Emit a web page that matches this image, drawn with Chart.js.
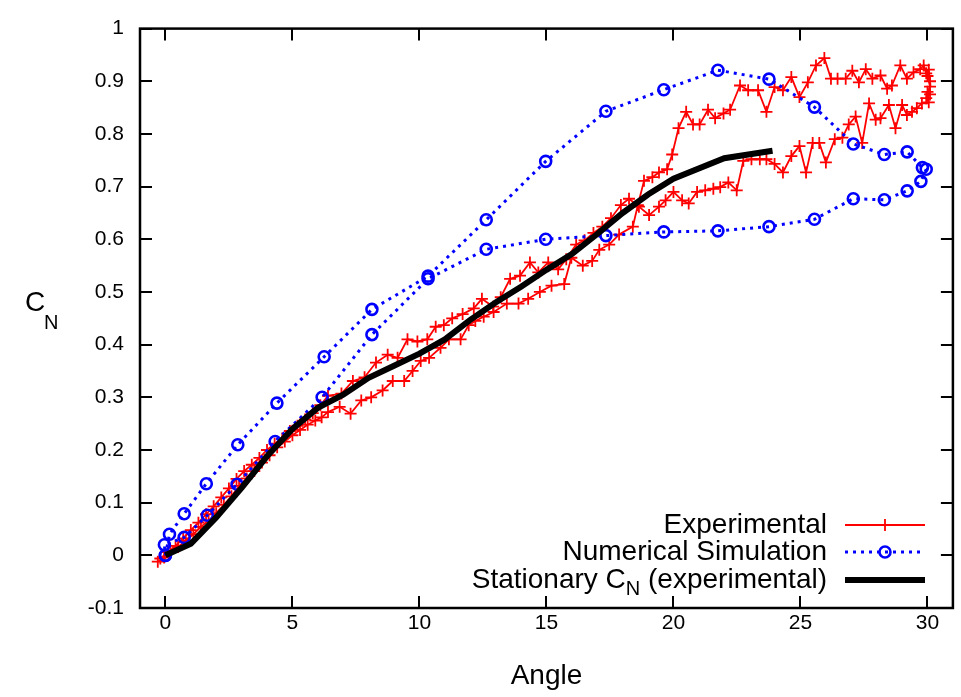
<!DOCTYPE html>
<html>
<head>
<meta charset="utf-8">
<script src="https://cdn.jsdelivr.net/npm/chart.js@4.4.0/dist/chart.umd.min.js"></script>
<style>
    html, body { margin: 0; padding: 0; background: #fff; }
    #wrap { width: 961px; height: 697px; }
</style>
</head>
<body>
<div id="wrap"><canvas id="chart" width="961" height="697"></canvas></div>
<script>
// Axis ticks
const xTicks = [0, 5, 10, 15, 20, 25, 30];
const yTicks = [-0.1, 0, 0.1, 0.2, 0.3, 0.4, 0.5, 0.6, 0.7, 0.8, 0.9, 1];
const yTickLabels = ['-0.1', '0', '0.1', '0.2', '0.3', '0.4', '0.5', '0.6', '0.7', '0.8', '0.9', '1'];

// Experimental (loop: up one branch, back on the other)
const expAngle = [
    -0.3, -0.05, 0.2, 0.5, 0.8, 1.1, 1.4, 1.7, 2.0, 2.3, 2.6, 2.9, 3.2, 3.5, 3.8, 4.1, 4.4, 4.7, 5.0, 5.3, 5.6, 5.9, 6.15,
    6.4, 6.86, 7.29, 7.71, 8.1, 8.55, 8.95, 9.4, 9.73, 10.05, 10.38, 10.83, 11.16, 11.62, 11.94, 12.2, 12.53, 12.92, 13.44,
    13.9, 14.28, 14.74, 15.2, 15.7, 15.98, 16.43, 16.8, 17.08, 17.47, 17.86, 18.4, 18.6, 18.84, 19.17, 19.43, 19.75, 19.95,
    20.2, 20.5, 20.77, 21.03, 21.36, 21.64, 21.97, 22.23, 22.62, 22.94, 23.33, 23.66, 23.98, 24.31, 24.64, 24.96, 25.29,
    25.61, 25.94, 26.2, 26.46, 26.78, 27.04, 27.3, 27.57, 27.83, 28.15, 28.41, 28.6, 28.93, 29.19, 29.45, 29.71, 29.85,
    29.95, 30.05, 30.1, 30.0, 30.1, 30.0, 30.1, 29.95, 30.05,
    29.78, 29.58, 29.39, 29.19, 29.0, 28.74, 28.48, 28.15, 27.96, 27.7, 27.43, 27.17, 26.9, 26.65, 26.35, 26.0, 25.74,
    25.48, 25.22, 24.96, 24.64, 24.31, 23.98, 23.66, 23.4, 23.07, 22.75, 22.49, 22.16, 21.84, 21.57, 21.25, 20.93, 20.6,
    20.34, 20.0, 19.69, 19.43, 19.04, 18.64, 18.25, 17.93, 17.54, 17.2, 16.85, 16.5, 16.17, 15.78, 15.46, 15.07, 14.68,
    14.35, 13.96, 13.57, 13.2, 12.9, 12.46, 12.14, 11.7, 11.29, 10.96, 10.64, 10.31, 9.92, 9.53, 9.14, 8.75, 8.29, 7.84,
    7.38, 6.93, 6.4, 6.1, 5.8, 5.5, 5.2, 4.9, 4.6, 4.3, 4.0, 3.7, 3.4, 3.1, 2.8, 2.5, 2.2, 1.9, 1.6, 1.3, 1.0, 0.7, 0.4,
    0.1, -0.2
];
const expCN = [
    -0.012, -0.004, 0.008, 0.016, 0.028, 0.04, 0.054, 0.066, 0.08, 0.096, 0.112, 0.132, 0.146, 0.16, 0.176, 0.19, 0.205,
    0.216, 0.228, 0.238, 0.248, 0.256, 0.262,
    0.272, 0.282, 0.269, 0.294, 0.3, 0.313, 0.331, 0.331, 0.35, 0.369, 0.375, 0.394, 0.41, 0.41, 0.437, 0.445, 0.453,
    0.462, 0.478,
    0.478, 0.487, 0.5, 0.512, 0.515, 0.565, 0.55, 0.559, 0.58, 0.59, 0.609, 0.624, 0.665, 0.711, 0.718, 0.727, 0.733, 0.761,
    0.811, 0.842, 0.818, 0.818, 0.846, 0.83, 0.839, 0.846, 0.892, 0.883, 0.883, 0.842, 0.889, 0.883, 0.908, 0.87, 0.898,
    0.93, 0.944, 0.905, 0.905, 0.905, 0.92, 0.898, 0.923, 0.905, 0.911, 0.886, 0.892, 0.93, 0.905, 0.917, 0.923, 0.93,
    0.915, 0.922, 0.9, 0.91, 0.89, 0.88, 0.875, 0.868, 0.86,
    0.858, 0.849, 0.842, 0.836, 0.855, 0.811, 0.855, 0.83, 0.827, 0.858, 0.783, 0.833, 0.818, 0.793, 0.79, 0.746, 0.783,
    0.783, 0.727, 0.777, 0.758, 0.727, 0.743, 0.752, 0.752, 0.752, 0.749, 0.693, 0.708, 0.699, 0.696, 0.693, 0.69, 0.668,
    0.674, 0.69, 0.674, 0.662, 0.646, 0.662, 0.677, 0.665, 0.64, 0.624, 0.612, 0.598, 0.59, 0.562, 0.543, 0.556, 0.537,
    0.556, 0.531, 0.525, 0.49, 0.472, 0.487, 0.469, 0.458, 0.45, 0.437, 0.434, 0.41, 0.406, 0.41, 0.375, 0.381, 0.366, 0.338,
    0.331, 0.307, 0.303, 0.285, 0.27, 0.258, 0.246, 0.236, 0.222, 0.212, 0.2, 0.185, 0.172, 0.16, 0.145, 0.127, 0.11, 0.093,
    0.078, 0.062, 0.048, 0.032, 0.018, 0.006, -0.006
];

// Numerical simulation
const simAngle = [
    0, 0.16, 0.74, 1.61, 2.85, 4.39, 6.25, 8.13, 10.34, 12.63, 14.97, 17.34, 19.62, 21.75, 23.76, 25.55, 27.08, 28.3,
    29.2, 29.8, 29.95, 29.74, 29.2, 28.3, 27.08, 25.55, 23.76, 21.75, 19.62, 17.34, 14.97, 12.63, 10.34, 8.13, 6.17,
    4.32, 2.82, 1.65, 0.74, -0.04, 0
];
const simCN = [
    0, 0.04, 0.079, 0.136, 0.21, 0.289, 0.377, 0.467, 0.53, 0.637, 0.748, 0.843, 0.884, 0.921, 0.904, 0.851, 0.781, 0.761,
    0.766, 0.736, 0.733, 0.71, 0.692, 0.675, 0.677, 0.638, 0.624, 0.616, 0.614, 0.607, 0.6, 0.581, 0.525, 0.419, 0.3,
    0.216, 0.135, 0.076, 0.034, 0.02, 0
];

// Stationary CN (experimental)
const statAngle = [0, 1, 2, 3, 4, 5, 6, 7, 8, 9, 10, 11, 12, 13, 14, 15, 16, 17, 18, 19, 20, 22, 23.9];
const statCN = [0, 0.022, 0.072, 0.128, 0.188, 0.24, 0.28, 0.305, 0.337, 0.36, 0.383, 0.41, 0.447, 0.48, 0.51, 0.542,
    0.572, 0.61, 0.65, 0.685, 0.715, 0.754, 0.768];

const FONT = "'Liberation Sans', Arial, Helvetica, sans-serif";

// the tick numbers in the original are in a condensed face
function hasFont(name) {
    const c = document.createElement('canvas').getContext('2d');
    c.font = '40px monospace';
    const w1 = c.measureText('0.9 Angle').width;
    c.font = '40px "' + name + '", monospace';
    return c.measureText('0.9 Angle').width !== w1;
}
const narrow = hasFont('Liberation Sans Narrow');
const TICK_FONT = narrow ? "'Liberation Sans Narrow', " + FONT : FONT;
const TICK_SIZE = narrow ? 26 : 21;

function toPoints(xs, ys) {
    return xs.map((x, i) => ({ x: x, y: ys[i] }));
}

// frame with inward ticks on all four sides (gnuplot style)
const framePlugin = {
    id: 'frame',
    afterDraw(chart) {
        const ctx = chart.ctx;
        const a = chart.chartArea;
        const xs = chart.scales.x;
        const ys = chart.scales.y;
        const len = 12;
        ctx.save();
        ctx.strokeStyle = '#000';
        ctx.lineWidth = 2;
        ctx.beginPath();
        xTicks.forEach(v => {
            const px = Math.round(xs.getPixelForValue(v));
            ctx.moveTo(px, a.bottom); ctx.lineTo(px, a.bottom - len);
            ctx.moveTo(px, a.top); ctx.lineTo(px, a.top + len);
        });
        yTicks.forEach(v => {
            const py = Math.round(ys.getPixelForValue(v));
            ctx.moveTo(a.left, py); ctx.lineTo(a.left + len, py);
            ctx.moveTo(a.right, py); ctx.lineTo(a.right - len, py);
        });
        ctx.stroke();
        ctx.lineWidth = 2.5;
        ctx.strokeRect(a.left, a.top, a.right - a.left, a.bottom - a.top);

        // y axis title C_N
        ctx.fillStyle = '#000';
        ctx.textBaseline = 'alphabetic';
        ctx.textAlign = 'left';
        ctx.font = '28px ' + FONT;
        ctx.fillText('C', 25, 311);
        ctx.font = '20px ' + FONT;
        ctx.fillText('N', 44, 329);
        ctx.restore();
    }
};

// key in the lower right, text right-aligned, sample on the right
const keyPlugin = {
    id: 'key',
    afterDraw(chart) {
        const ctx = chart.ctx;
        const textRight = 827;
        const x0 = 845, x1 = 925;
        const rows = [525, 552, 580];
        ctx.save();
        ctx.fillStyle = '#000';
        ctx.textBaseline = 'middle';
        chart.data.datasets.forEach((ds, i) => {
            const y = rows[i];
            ctx.font = '28px ' + FONT;
            ctx.textAlign = 'right';
            if (ds.keyParts) {
                // label with subscript: draw from right to left
                let x = textRight;
                for (let k = ds.keyParts.length - 1; k >= 0; k--) {
                    const p = ds.keyParts[k];
                    ctx.font = (p.sub ? '20px ' : '28px ') + FONT;
                    ctx.fillText(p.text, x, y + (p.sub ? 9 : 0));
                    x -= ctx.measureText(p.text).width;
                }
            } else {
                ctx.fillText(ds.label, textRight, y);
            }
            ctx.strokeStyle = ds.borderColor;
            ctx.lineWidth = ds.borderWidth;
            ctx.setLineDash(ds.borderDash || []);
            ctx.beginPath();
            ctx.moveTo(x0, y);
            ctx.lineTo(x1, y);
            ctx.stroke();
            ctx.setLineDash([]);
            if (ds.pointRadius > 0) {
                const mx = (x0 + x1) / 2;
                ctx.lineWidth = ds.pointBorderWidth;
                ctx.beginPath();
                if (ds.pointStyle === 'cross') {
                    const r = ds.pointRadius;
                    ctx.moveTo(mx - r, y); ctx.lineTo(mx + r, y);
                    ctx.moveTo(mx, y - r); ctx.lineTo(mx, y + r);
                } else {
                    ctx.arc(mx, y, ds.pointRadius, 0, Math.PI * 2);
                }
                ctx.stroke();
            }
        });
        ctx.restore();
    }
};

new Chart(document.getElementById('chart'), {
    type: 'line',
    data: {
        datasets: [
            {
                label: 'Experimental',
                data: toPoints(expAngle, expCN),
                borderColor: '#ff0000',
                borderWidth: 1.8,
                pointStyle: 'cross',
                pointRadius: 6,
                pointBorderWidth: 1.8,
                pointBorderColor: '#ff0000',
                order: 3
            },
            {
                label: 'Numerical Simulation',
                data: toPoints(simAngle, simCN),
                borderColor: '#0000ff',
                borderWidth: 3,
                borderDash: [3, 5],
                pointStyle: 'circle',
                pointRadius: 5.5,
                pointBorderWidth: 2.6,
                pointBorderColor: '#0000ff',
                pointBackgroundColor: 'rgba(0,0,0,0)',
                order: 2
            },
            {
                label: 'Stationary CN (experimental)',
                keyParts: [{ text: 'Stationary C' }, { text: 'N', sub: true }, { text: ' (experimental)' }],
                data: toPoints(statAngle, statCN),
                borderColor: '#000000',
                borderWidth: 6,
                pointRadius: 0,
                order: 1
            }
        ]
    },
    options: {
        responsive: false,
        devicePixelRatio: 1,
        animation: false,
        parsing: false,
        layout: { padding: { top: 19, right: 4, bottom: 0, left: 0 } },
        elements: { line: { tension: 0, fill: false } },
        plugins: {
            legend: { display: false },
            tooltip: { enabled: false }
        },
        scales: {
            x: {
                type: 'linear',
                min: -1,
                max: 31,
                afterFit: (s) => { s.height = 89; },
                afterBuildTicks: (s) => { s.ticks = xTicks.map(v => ({ value: v })); },
                grid: { display: false, drawTicks: false },
                border: { display: false },
                ticks: {
                    padding: 3,
                    color: '#000',
                    font: { family: TICK_FONT, size: TICK_SIZE },
                    maxRotation: 0,
                    callback: (v) => String(v)
                },
                title: {
                    display: true,
                    text: 'Angle',
                    color: '#000',
                    font: { family: FONT, size: 28 },
                    padding: { top: 4, bottom: 4 }
                }
            },
            y: {
                type: 'linear',
                min: -0.1,
                max: 1,
                afterFit: (s) => { s.width = 140; },
                afterBuildTicks: (s) => { s.ticks = yTicks.map(v => ({ value: v })); },
                grid: { display: false, drawTicks: false },
                border: { display: false },
                ticks: {
                    padding: 16,
                    color: '#000',
                    font: { family: TICK_FONT, size: TICK_SIZE },
                    callback: (v, i) => yTickLabels[i]
                }
            }
        }
    },
    plugins: [framePlugin, keyPlugin]
});
</script>
</body>
</html>
